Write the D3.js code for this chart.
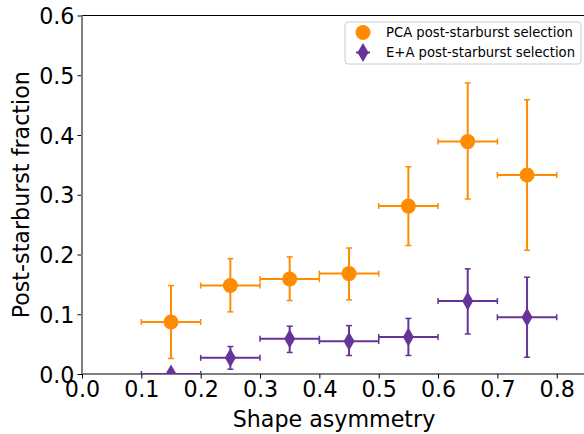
<!DOCTYPE html>
<html>
<head>
<meta charset="utf-8">
<script src="https://cdn.jsdelivr.net/npm/d3@7"></script>
<style>
  body { margin: 0; background: #fff; }
  svg text { font-family: "DejaVu Sans", sans-serif; fill: #000; }
</style>
</head>
<body>
<div id="chart"></div>
<script>
// bin centres and half widths (shape asymmetry)
const binCentres = [0.15, 0.25, 0.35, 0.45, 0.55, 0.65, 0.75];
const binHalfWidth = [0.05, 0.05, 0.05, 0.05, 0.05, 0.05, 0.05];

// PCA post-starburst selection
const pcaFrac = [0.087, 0.148, 0.159, 0.168, 0.281, 0.389, 0.333];
const pcaLow  = [0.026, 0.104, 0.123, 0.124, 0.215, 0.293, 0.207];
const pcaHigh = [0.148, 0.193, 0.196, 0.211, 0.347, 0.487, 0.459];

// E+A post-starburst selection
const eaFrac = [0.000, 0.027, 0.059, 0.055, 0.062, 0.122, 0.095];
const eaLow  = [0.000, 0.008, 0.036, 0.031, 0.031, 0.067, 0.028];
const eaHigh = [0.000, 0.046, 0.080, 0.081, 0.093, 0.176, 0.162];

const xTicks = [0.0, 0.1, 0.2, 0.3, 0.4, 0.5, 0.6, 0.7, 0.8];
const yTicks = [0.0, 0.1, 0.2, 0.3, 0.4, 0.5, 0.6];

const series = [
    {name: "PCA post-starburst selection", color: "#ff8c00", shape: "circle",
     y: pcaFrac, lo: pcaLow, hi: pcaHigh},
    {name: "E+A post-starburst selection", color: "#663399", shape: "diamond",
     y: eaFrac, lo: eaLow, hi: eaHigh}
];

const W = 584, H = 434;
const margin = {top: 15.5, left: 82, bottom: 60};

const svg = d3.select("#chart").append("svg")
    .attr("width", W)
    .attr("height", H);

const x = d3.scaleLinear().domain([0, 0.85]).range([margin.left, margin.left + 0.85 * 593.4]);
const y = d3.scaleLinear().domain([0, 0.6]).range([374, margin.top]);

// clip to plot area
svg.append("defs").append("clipPath")
    .attr("id", "clip")
    .append("rect")
    .attr("x", x(0))
    .attr("y", y(0.6))
    .attr("width", x(0.85) - x(0))
    .attr("height", y(0) - y(0.6));

// axes
const xAxis = svg.append("g")
    .attr("transform", `translate(0,${y(0)})`)
    .call(d3.axisBottom(x).tickValues(xTicks).tickFormat(d3.format(".1f")).tickSize(4.5).tickPadding(3));
xAxis.select(".domain").remove();
xAxis.selectAll("text").style("font-size", "22.2px");
xAxis.selectAll("line").attr("stroke-width", 1);

const yAxis = svg.append("g")
    .attr("transform", `translate(${x(0)},0)`)
    .call(d3.axisLeft(y).tickValues(yTicks).tickFormat(d3.format(".1f")).tickSize(4.5).tickPadding(3));
yAxis.select(".domain").remove();
yAxis.selectAll("text").style("font-size", "22.2px").attr("dy", "0.36em");
yAxis.selectAll("line").attr("stroke-width", 1);

// spines
svg.append("line")
    .attr("x1", x(0)).attr("x2", W)
    .attr("y1", y(0.6)).attr("y2", y(0.6))
    .attr("stroke", "#000").attr("stroke-width", 1);
svg.append("line")
    .attr("x1", x(0)).attr("x2", W)
    .attr("y1", y(0)).attr("y2", y(0))
    .attr("stroke", "#000").attr("stroke-width", 1.2);
svg.append("line")
    .attr("x1", x(0)).attr("x2", x(0))
    .attr("y1", y(0.6)).attr("y2", y(0))
    .attr("stroke", "#808080").attr("stroke-width", 2);

// axis titles
svg.append("text")
    .attr("x", (x(0) + W) / 2 + 1)
    .attr("y", 427)
    .attr("text-anchor", "middle")
    .style("font-size", "22.2px")
    .text("Shape asymmetry");

svg.append("text")
    .attr("transform", `translate(29,${(y(0) + y(0.6)) / 2}) rotate(-90)`)
    .attr("text-anchor", "middle")
    .style("font-size", "22.2px")
    .text("Post-starburst fraction");

const plot = svg.append("g").attr("clip-path", "url(#clip)");

const diamond = (cx, cy, w, h) =>
    `M${cx},${cy - h}L${cx + w},${cy}L${cx},${cy + h}L${cx - w},${cy}Z`;

series.forEach(s => {
    const g = plot.append("g");
    const pts = binCentres.map((c, i) => ({
        x: c, w: binHalfWidth[i], y: s.y[i], lo: s.lo[i], hi: s.hi[i]
    }));

    // horizontal error bars
    g.selectAll(".xerr").data(pts).enter().append("line")
        .attr("x1", d => x(d.x - d.w)).attr("x2", d => x(d.x + d.w))
        .attr("y1", d => y(d.y)).attr("y2", d => y(d.y))
        .attr("stroke", s.color).attr("stroke-width", 2);
    // vertical error bars
    g.selectAll(".yerr").data(pts).enter().append("line")
        .attr("x1", d => x(d.x)).attr("x2", d => x(d.x))
        .attr("y1", d => y(d.lo)).attr("y2", d => y(d.hi))
        .attr("stroke", s.color).attr("stroke-width", 2);
    // caps
    pts.forEach(d => {
        [d.x - d.w, d.x + d.w].forEach(xv => {
            g.append("line")
                .attr("x1", x(xv)).attr("x2", x(xv))
                .attr("y1", y(d.y) - 3).attr("y2", y(d.y) + 3)
                .attr("stroke", s.color).attr("stroke-width", 1.5);
        });
        if (d.hi > d.lo) {
            [d.lo, d.hi].forEach(yv => {
                g.append("line")
                    .attr("x1", x(d.x) - 3).attr("x2", x(d.x) + 3)
                    .attr("y1", y(yv)).attr("y2", y(yv))
                    .attr("stroke", s.color).attr("stroke-width", 1.5);
            });
        }
    });

    // markers
    if (s.shape === "circle") {
        g.selectAll(".pt").data(pts).enter().append("circle")
            .attr("cx", d => x(d.x)).attr("cy", d => y(d.y))
            .attr("r", 7.5).attr("fill", s.color);
    } else {
        g.selectAll(".pt").data(pts).enter().append("path")
            .attr("d", d => diamond(x(d.x), y(d.y), 5.5, 9.5))
            .attr("fill", s.color);
    }
});

// legend
const leg = svg.append("g");
leg.append("rect")
    .attr("x", 345).attr("y", 22)
    .attr("width", 236).attr("height", 42)
    .attr("rx", 3)
    .attr("fill", "#fff").attr("fill-opacity", 0.8)
    .attr("stroke", "#cccccc").attr("stroke-width", 1);

series.forEach((s, i) => {
    const cy = 32.5 + i * 20;
    const cx = 363;
    if (s.shape === "circle") {
        leg.append("circle").attr("cx", cx).attr("cy", cy).attr("r", 7.5).attr("fill", s.color);
    } else {
        leg.append("line").attr("x1", cx - 7).attr("x2", cx + 7).attr("y1", cy).attr("y2", cy)
            .attr("stroke", s.color).attr("stroke-width", 2);
        leg.append("line").attr("x1", cx).attr("x2", cx).attr("y1", cy - 7).attr("y2", cy + 7)
            .attr("stroke", s.color).attr("stroke-width", 2);
        leg.append("path").attr("d", diamond(cx, cy, 5.5, 9.5)).attr("fill", s.color);
    }
    leg.append("text")
        .attr("x", 386).attr("y", cy)
        .attr("dy", "0.36em")
        .style("font-size", "13.2px")
        .text(s.name);
});
</script>
</body>
</html>
